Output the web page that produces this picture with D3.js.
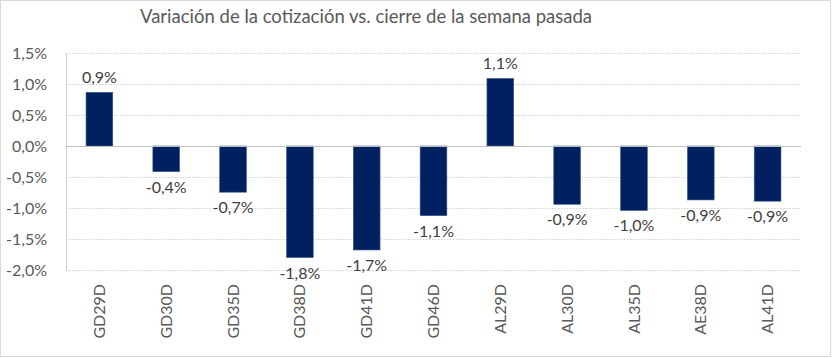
<!DOCTYPE html>
<html><head><meta charset="utf-8">
<script src="https://cdn.jsdelivr.net/npm/d3@7"></script>
<style>body{margin:0;background:#fff;}svg{display:block;}</style>
</head><body>
<svg id="c" width="832" height="358"></svg>
<script>
const categories = ["GD29D","GD30D","GD35D","GD38D","GD41D","GD46D","AL29D","AL30D","AL35D","AE38D","AL41D"];
const values = [0.866, -0.414, -0.745, -1.80, -1.677, -1.124, 1.09, -0.94, -1.04, -0.87, -0.89];
const yTicks = [1.5, 1.0, 0.5, 0.0, -0.5, -1.0, -1.5, -2.0];
const title = "Variación de la cotización vs. cierre de la semana pasada";

const svg = d3.select("#c");
const FONT = "Lato, 'Open Sans', sans-serif";
const FS = 16;
const m = {left:66, right:801, top:53, bottom:270};

svg.append("rect").attr("x",0.5).attr("y",0.5).attr("width",830).attr("height",356)
  .attr("fill","#fff").attr("stroke","#d9d9d9");

svg.append("text").attr("x",366).attr("y",23).attr("text-anchor","middle")
  .attr("font-family",FONT).attr("font-size",18.5).attr("fill","#595959").text(title);

const x = d3.scaleBand().domain(categories).range([m.left, m.right]).padding(0);
const y = d3.scaleLinear().domain([-2.0, 1.5]).range([m.bottom, m.top]);
const fmt = v => (v < 0 ? "-" : "") + Math.abs(v).toFixed(1).replace(".", ",") + "%";

// gridlines
svg.append("g").selectAll("line").data(yTicks.filter(t => t !== 0)).join("line")
  .attr("x1", m.left).attr("x2", m.right)
  .attr("y1", d => Math.round(y(d)) + 0.5).attr("y2", d => Math.round(y(d)) + 0.5)
  .attr("stroke","#d0d0d0").attr("stroke-dasharray","1.5,1.5");

// y axis
const yAxis = d3.axisLeft(y).tickValues(yTicks).tickSize(0).tickPadding(19).tickFormat(fmt);
const ga = svg.append("g").attr("transform",`translate(${m.left},0)`).call(yAxis);
ga.select(".domain").attr("stroke","#d0d0d0");
ga.selectAll("text").attr("font-family",FONT).attr("font-size",FS).attr("fill","#595959");

// bars
const bw = x.bandwidth() * 0.4;
svg.append("g").selectAll("rect").data(categories).join("rect")
  .attr("x", (d) => x(d) + (x.bandwidth() - bw) / 2)
  .attr("y", (d, i) => y(Math.max(0, values[i])))
  .attr("width", bw)
  .attr("height", (d, i) => Math.abs(y(values[i]) - y(0)))
  .attr("fill","#002060").attr("stroke","#3c5a8a").attr("stroke-width",0.6);

// zero line
svg.append("line").attr("x1", m.left).attr("x2", m.right)
  .attr("y1", Math.round(y(0)) + 0.5).attr("y2", Math.round(y(0)) + 0.5)
  .attr("stroke","#bfbfbf").attr("stroke-width",1);

// data labels
svg.append("g").selectAll("text").data(categories).join("text")
  .attr("x", d => x(d) + x.bandwidth() / 2)
  .attr("y", (d, i) => values[i] >= 0 ? y(values[i]) - 9 : y(values[i]) + 21)
  .attr("text-anchor","middle").attr("font-family",FONT).attr("font-size",FS).attr("fill","#404040")
  .text((d, i) => fmt(values[i]));

// x labels
const xAxis = d3.axisBottom(x).tickSize(0).tickPadding(0);
const gx = svg.append("g").attr("transform",`translate(0,${m.bottom})`).call(xAxis);
gx.select(".domain").remove();
gx.selectAll("text").attr("font-family",FONT).attr("font-size",FS).attr("fill","#595959")
  .attr("transform","rotate(-90)").attr("text-anchor","end").attr("dy","0.35em")
  .attr("x",-14).attr("y",0);
</script>
</body></html>
